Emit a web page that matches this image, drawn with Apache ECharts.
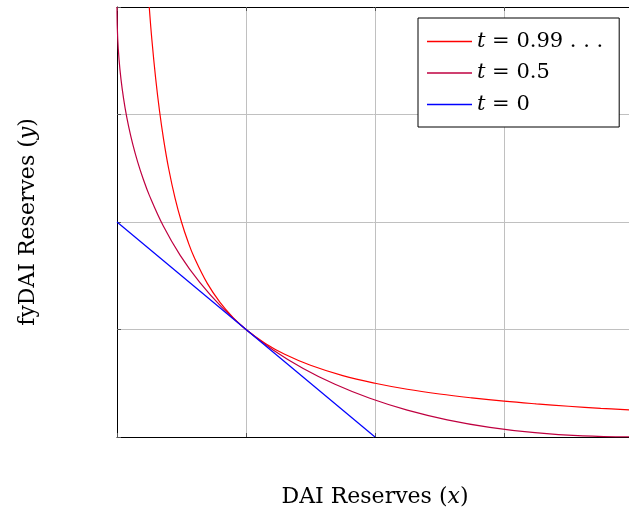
<!DOCTYPE html>
<html>
<head>
<meta charset="utf-8">
<script src="https://cdn.jsdelivr.net/npm/echarts@6/dist/echarts.min.js"></script>
<style>html,body{margin:0;padding:0;background:#fff}#c{width:629px;height:512px}</style>
</head>
<body>
<div id="c"></div>
<script>
// Values (axis units: one grid cell = 1)
var xTicks = [0, 1, 2, 3, 4];
var yTicks = [0, 1, 2, 3, 4];
var seriesNames = ['t = 0.99 . . .', 't = 0.5', 't = 0'];
var curveT099 = [[0.25,4],[0.27,3.7],[0.3,3.333],[0.33,3.03],[0.36,2.778],[0.4,2.5],[0.45,2.222],[0.5,2],[0.55,1.818],[0.6,1.667],[0.7,1.429],[0.8,1.25],[0.9,1.111],[1,1],[1.15,0.87],[1.3,0.769],[1.5,0.667],[1.75,0.571],[2,0.5],[2.25,0.444],[2.5,0.4],[2.75,0.364],[3,0.333],[3.25,0.308],[3.5,0.286],[3.75,0.267],[4,0.25]];
var curveT05 = [[0,4],[0.0025,3.8025],[0.01,3.61],[0.0225,3.4225],[0.04,3.24],[0.0625,3.0625],[0.09,2.89],[0.1225,2.7225],[0.16,2.56],[0.2025,2.4025],[0.25,2.25],[0.36,1.96],[0.49,1.69],[0.64,1.44],[0.81,1.21],[1,1],[1.21,0.81],[1.44,0.64],[1.69,0.49],[1.96,0.36],[2.25,0.25],[2.56,0.16],[2.89,0.09],[3.24,0.04],[3.61,0.01],[4,0]];
var lineT0 = [[0,2],[2,0]];
var colors = ['#ff0000', '#bf0040', '#0000ff'];

var serif = 'DejaVu Serif';
function nameRich(size, lh){
  return {
    n:{fontFamily:serif,fontSize:size,color:'#000',lineHeight:lh},
    i:{fontFamily:serif,fontSize:size,fontStyle:'italic',color:'#000',lineHeight:lh}
  };
}
var gridLine = {show:true, lineStyle:{color:'#c0c0c0', width:1}};
var tick = {show:true, inside:true, length:4, lineStyle:{color:'#555', width:1}};
function xa(pos, name){
  return {type:'value', position:pos, min:xTicks[0], max:xTicks[xTicks.length-1], interval:1,
    axisLine:{show:true, onZero:false, lineStyle:{color:'#000', width:1}},
    axisTick:tick, axisLabel:{show:false}, splitLine: pos==='bottom'?gridLine:{show:false},
    name:name, nameLocation:'middle', nameGap:48, nameTextStyle:{rich:nameRich(22,24)}};
}
function ya(pos, name){
  return {type:'value', position:pos, min:yTicks[0], max:yTicks[yTicks.length-1], interval:1,
    axisLine:{show:true, onZero:false, lineStyle:{color:'#000', width:1}},
    axisTick:tick, axisLabel:{show:false}, splitLine: pos==='left'?gridLine:{show:false},
    name:name, nameLocation:'middle', nameGap:77, nameRotate:90, nameTextStyle:{rich:nameRich(22,24)}};
}
var chart = echarts.init(document.getElementById('c'));
chart.setOption({
  animation:false,
  backgroundColor:'#fff',
  grid:{left:117, top:7, width:516, height:430, containLabel:false, outerBoundsMode:'none'},
  xAxis:[xa('bottom','{n|DAI Reserves (}{i|x}{n|)}'), xa('top','')],
  yAxis:[ya('left','{n|fyDAI Reserves (}{i|y}{n|)}'), ya('right','')],
  legend:{
    orient:'vertical', left:418, top:18,
    data:seriesNames,
    icon:'rect',
    itemWidth:45, itemHeight:1.3,
    itemGap:10.5,
    padding:[13,16,12,9],
    borderColor:'#000', borderWidth:1, backgroundColor:'#fff',
    formatter:function(n){ return '{i|t}{n|' + n.slice(1) + '}'; },
    textStyle:{rich:nameRich(21,22)}
  },
  series:[
    {name:seriesNames[0], type:'line', data:curveT099, symbol:'none', smooth:0.4, lineStyle:{color:colors[0], width:1.2}, itemStyle:{color:colors[0]}},
    {name:seriesNames[1], type:'line', data:curveT05, symbol:'none', smooth:0.4, lineStyle:{color:colors[1], width:1.2}, itemStyle:{color:colors[1]}},
    {name:seriesNames[2], type:'line', data:lineT0, symbol:'none', lineStyle:{color:colors[2], width:1.2}, itemStyle:{color:colors[2]}}
  ]
});
</script>
</body>
</html>
